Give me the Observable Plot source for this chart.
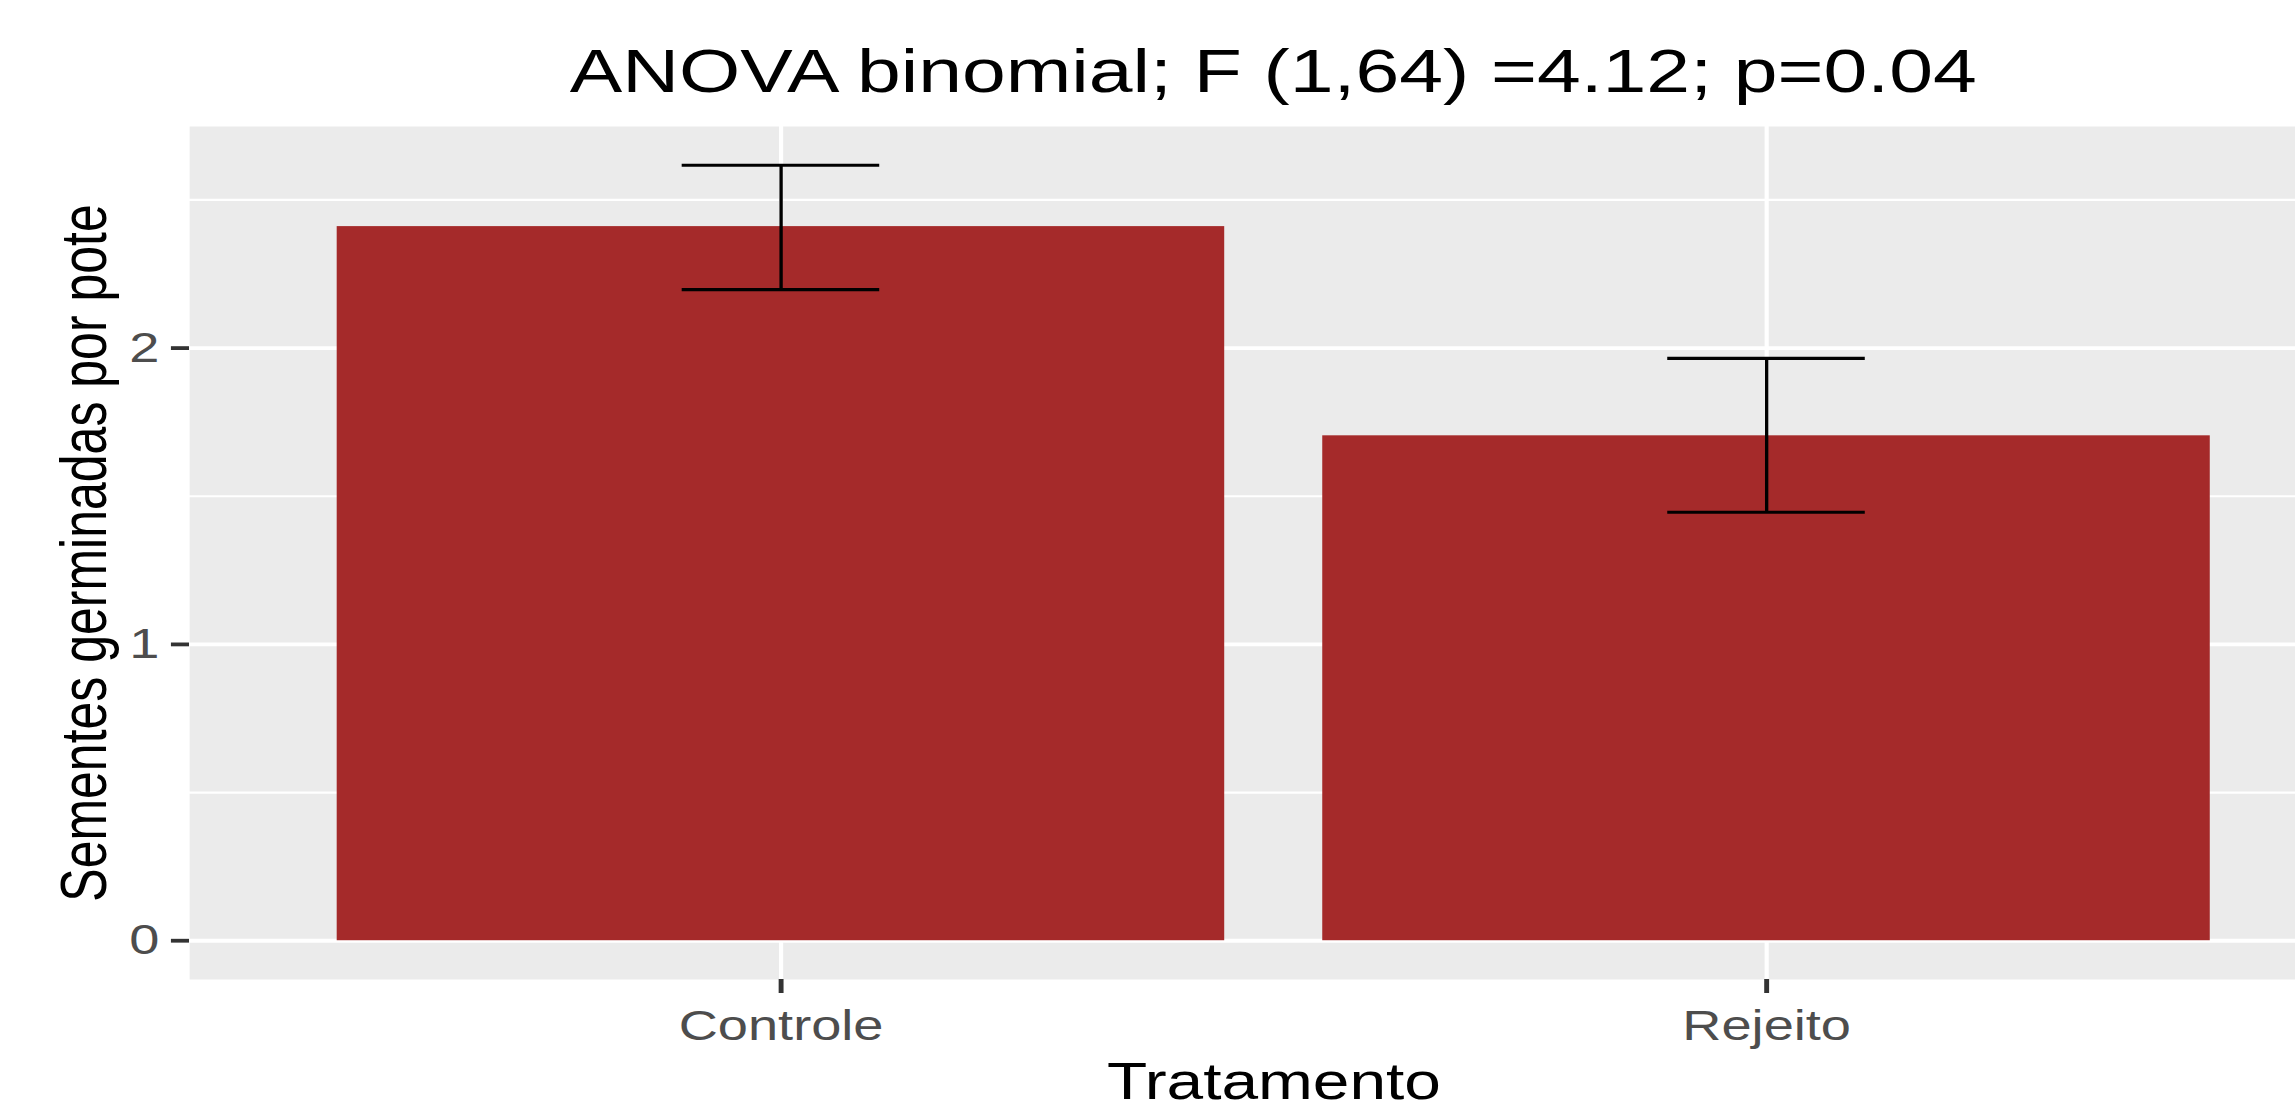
<!DOCTYPE html>
<html>
<head>
<meta charset="utf-8">
<script src="https://cdn.jsdelivr.net/npm/d3@7"></script>
<script src="https://cdn.jsdelivr.net/npm/@observablehq/plot@0.6"></script>
<style>
  html, body { margin: 0; padding: 0; overflow: hidden; background: #ffffff; width: 2295px; height: 1107px; }
  #wrap { position: absolute; left: 0; top: 0; transform: scaleX(1.29); transform-origin: 0 0; }
  #title { position: relative; height: 126px; }
  #title div { position: absolute; top: 35.8px; text-align: center; white-space: nowrap;
    font-family: "Liberation Sans", Arial, sans-serif; font-size: 61px; line-height: normal; color: #000; }
  #chart svg { display: block; }
</style>
</head>
<body>
<div id="wrap">
  <div id="title"><div id="titletext"></div></div>
  <div id="chart"></div>
</div>
<script>
// ---- data ----
const categories = ["Controle", "Rejeito"];
const means = [2.41, 1.704];
const lower = [2.197, 1.446];
const upper = [2.617, 1.965];
const yMajorTicks = [0, 1, 2];
const yMinorTicks = [0.5, 1.5, 2.5];
const yTickLabels = ["0", "1", "2"];
const titleText = "ANOVA binomial; F (1,64) =4.12; p=0.04";
const xTitle = "Tratamento";
const yTitle = "Sementes germinadas por pote";

const data = categories.map((c, i) => ({cat: c, mean: means[i], lower: lower[i], upper: upper[i]}));

// ---- layout (local, un-stretched units) ----
const W = 1827.5, H = 981;
const ML = 146.5, MR = 0, MT = 0, MB = 128;

const xOpts = {type: "band", domain: categories, paddingInner: 0.1, paddingOuter: 0.15, align: 0.5};
const xs = Plot.scale({x: {...xOpts, range: [ML, W - MR]}});
const capInset = (xs.bandwidth - 0.2 * xs.step) / 2;

// ggplot-style 5% expansion of the y data range
const lo = 0, hi = d3.max(upper);
const pad = 0.05 * (hi - lo);

const tt = document.getElementById("titletext");
tt.textContent = titleText;
tt.style.left = ML + "px";
tt.style.width = (W - ML - MR) + "px";

const chart = Plot.plot({
  width: W, height: H,
  marginLeft: ML, marginRight: MR, marginTop: MT, marginBottom: MB,
  style: {fontFamily: "'Liberation Sans', Arial, sans-serif", background: "transparent", overflow: "visible"},
  x: {...xOpts, axis: null},
  y: {domain: [lo - pad, hi + pad], axis: null},
  marks: [
    Plot.frame({fill: "#EBEBEB", stroke: null}),
    Plot.gridY(yMinorTicks, {stroke: "#ffffff", strokeOpacity: 1, strokeWidth: 2.2}),
    Plot.gridY(yMajorTicks, {stroke: "#ffffff", strokeOpacity: 1, strokeWidth: 3.8}),
    Plot.gridX(categories, {stroke: "#ffffff", strokeOpacity: 1, strokeWidth: 3.2}),
    Plot.barY(data, {x: "cat", y: "mean", fill: "#A52A2A"}),
    Plot.ruleX(data, {x: "cat", y1: "lower", y2: "upper", stroke: "#000000", strokeWidth: 2.6}),
    Plot.tickY(data, {x: "cat", y: "lower", insetLeft: capInset, insetRight: capInset, stroke: "#000000", strokeWidth: 3.2}),
    Plot.tickY(data, {x: "cat", y: "upper", insetLeft: capInset, insetRight: capInset, stroke: "#000000", strokeWidth: 3.2}),
    Plot.axisY(yMajorTicks, {
      tickSize: 14, tickPadding: 9.5, fontSize: 42, strokeWidth: 3.8,
      stroke: "#333333", fill: "#4D4D4D", label: null,
      tickFormat: (d) => yTickLabels[yMajorTicks.indexOf(d)]
    }),
    Plot.axisX({
      tickSize: 14, tickPadding: 17, fontSize: 42, strokeWidth: 3.8,
      stroke: "#333333", fill: "#4D4D4D", label: null
    }),
    Plot.text([xTitle], {text: (d) => d, frameAnchor: "bottom", lineAnchor: "top", dy: 83.3, fontSize: 51, fill: "#000000"}),
    Plot.text([yTitle], {text: (d) => d, frameAnchor: "left", rotate: -90, textAnchor: "middle", lineAnchor: "bottom", dx: -65, fontSize: 50, fill: "#000000"})
  ]
});
document.getElementById("chart").appendChild(chart);
</script>
</body>
</html>
